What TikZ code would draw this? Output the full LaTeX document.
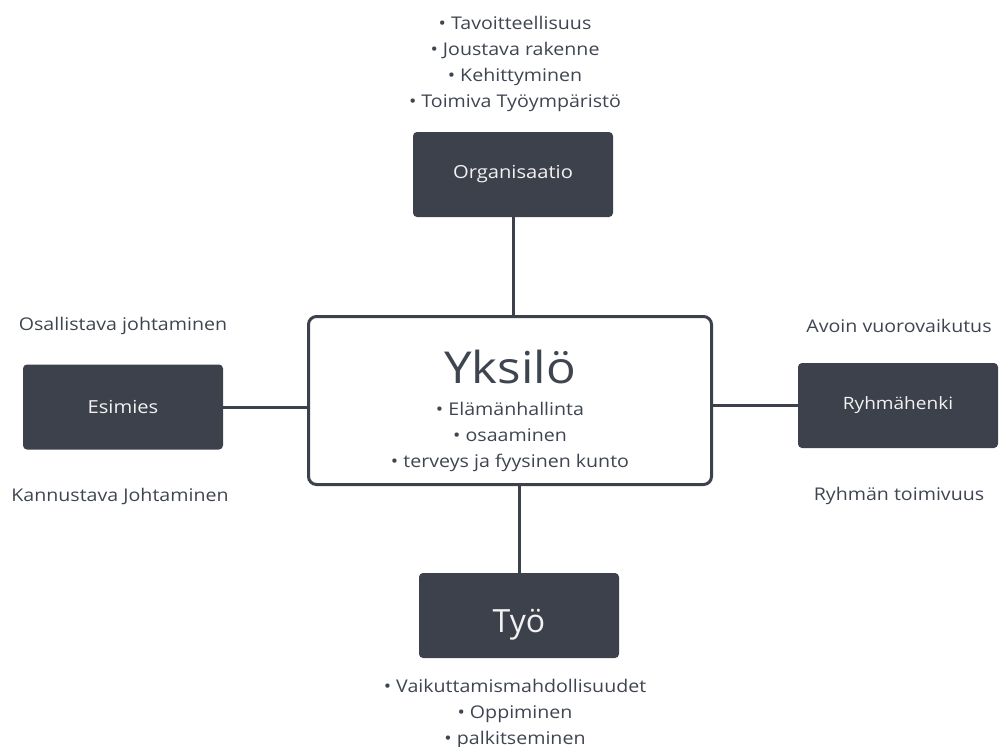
\documentclass[tikz,border=0pt]{standalone}
\usepackage{fontspec}
\setmainfont{Open Sans}
\newfontfamily\widefont[FakeStretch=1.12]{Open Sans}
\definecolor{boxfill}{HTML}{3D414B}
\definecolor{txt}{HTML}{3F4550}
\definecolor{boxtxt}{HTML}{F2F2F2}
\begin{document}
\begin{tikzpicture}[x=1pt,y=-1pt,
  darkbox/.style={fill=boxfill, rounded corners=4pt, minimum width=200pt, minimum height=85pt, inner sep=0pt, text=boxtxt},
  label/.style={text=txt, font=\widefont\fontsize{17.5}{26}\selectfont, inner sep=0pt, align=center},
  conn/.style={draw=boxfill, line width=3pt}]
\useasboundingbox (0,0) rectangle (1002,747);
% central box
\node[draw=boxfill, line width=3pt, rounded corners=8pt, minimum width=403pt, minimum height=168pt, inner sep=0pt, fill=white] (yks) at (510,400.5) {};
\node[text=txt, font=\widefont\fontsize{44}{50}\selectfont, inner sep=0pt] (ykst) at (510,367) {Yksilö};
\node[label] (ykslist) at (510,437) {• Elämänhallinta\\• osaaminen\\• terveys ja fyysinen kunto};
% boxes
\node[darkbox, font=\widefont\fontsize{18}{20}\selectfont] (org) at (513,174.5) {Organisaatio};
\node[darkbox, font=\widefont\fontsize{18}{20}\selectfont] (esi) at (123,407) {Esimies};
\node[darkbox, font=\widefont\fontsize{17}{20}\selectfont] (ryh) at (898,405.5) {Ryhmähenki};
\node[darkbox] (tyo) at (519,615.5) {};
\node[text=boxtxt, font=\fontsize{32}{36}\selectfont, inner sep=0pt, anchor=base] (tyot) at (519,632) {Työ};
% labels
\node[label] (orglist) at (515,63.5) {• Tavoitteellisuus\\• Joustava rakenne\\• Kehittyminen\\• Toimiva Työympäristö};
\node[label] (esitop) at (123,326) {Osallistava johtaminen};
\node[label] (esibot) at (120,496) {Kannustava Johtaminen};
\node[label] (ryhtop) at (899,326) {Avoin vuorovaikutus};
\node[label] (ryhbot) at (899,496) {Ryhmän toimivuus};
\node[label] (tyolist) at (515,713.5) {• Vaikuttamismahdollisuudet\\• Oppiminen\\• palkitseminen};
% connectors
\draw[conn] (org.south) -- (org.south |- yks.north);
\draw[conn] (esi.east) -- (esi.east -| yks.west);
\draw[conn] (ryh.west) -- (ryh.west -| yks.east);
\draw[conn] (tyo.north) -- (tyo.north |- yks.south);
\end{tikzpicture}
\end{document}
